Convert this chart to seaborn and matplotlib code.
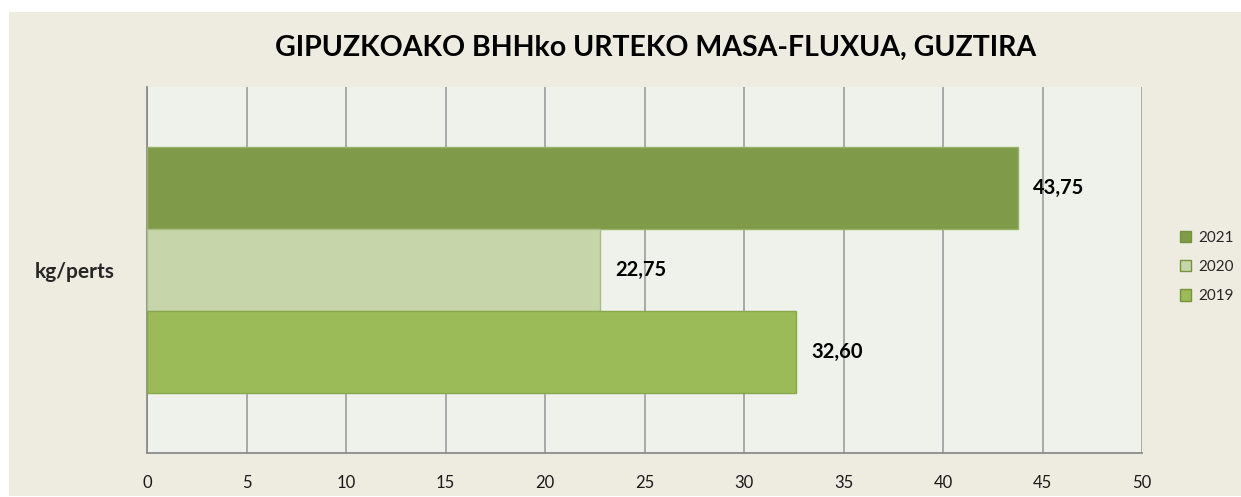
import pandas as pd
import matplotlib.pyplot as plt
import seaborn as sns
from matplotlib.patches import Rectangle

# chart values
years = ['2021', '2020', '2019']
values = [43.75, 22.75, 32.60]
category = 'kg/perts'
x_ticks = [0, 5, 10, 15, 20, 25, 30, 35, 40, 45, 50]
colors = ['#7f9a48', '#c6d6aa', '#9bbb59']

data = pd.DataFrame({'cat': [category] * len(years), 'year': years, 'value': values})

sns.set_style('white')
plt.rcParams['font.family'] = ['Lato', 'DejaVu Sans']

fig = plt.figure(figsize=(12.41, 4.97), dpi=100)
fig.patch.set_facecolor('white')
# beige chart background with small white margin top/left
fig.patches.append(Rectangle((9 / 1241, 1 / 497), 1 - 9 / 1241, (496 - 12) / 497,
                             transform=fig.transFigure, facecolor='#eeece1',
                             edgecolor='none', zorder=-1))

ax = fig.add_axes([147 / 1241, 1 - 453 / 497, (1142 - 147) / 1241, (453 - 87) / 497])
ax.set_facecolor('#eff2ea')

sns.barplot(data=data, x='value', y='cat', hue='year', hue_order=years,
            palette=colors, saturation=1, orient='h', width=0.672, ax=ax, zorder=3)

edge_cols = ['#98b266', '#a9bd85', '#86a84a']
for cont, ec, v in zip(ax.containers, edge_cols, values):
    for bar in cont:
        bar.set_edgecolor(ec)
        bar.set_linewidth(1)
    ax.bar_label(cont, labels=[f'{v:.2f}'.replace('.', ',')], padding=11,
                 fontsize=14.5, fontweight='bold', color='black')

ax.set_xlim(0, 50)
ax.set_xticks(x_ticks)
ax.set_xticklabels([str(t) for t in x_ticks], fontsize=12, color='#1a1a1a')
ax.tick_params(axis='x', length=5, color='#8c8c8c', width=1, pad=11, direction='out')
ax.tick_params(axis='y', length=0, pad=23)
ax.set_yticklabels([category], fontsize=15, fontweight='bold')
ax.grid(axis='x', color='#a3a3a3', linewidth=1.3, zorder=0)
ax.set_axisbelow(True)
ax.set_xlabel('')
ax.set_ylabel('')
for side in ['top', 'right']:
    ax.spines[side].set_visible(False)
for side in ['left', 'bottom']:
    ax.spines[side].set_color('#8c8c8c')
    ax.spines[side].set_linewidth(1.3)

leg = ax.legend(loc='center left', bbox_to_anchor=(1166 / 1241, 1 - 267 / 497),
                bbox_transform=fig.transFigure, frameon=False, fontsize=11,
                handlelength=0.75, handleheight=0.75, handletextpad=0.45,
                labelspacing=1.0)
for h in leg.legend_handles:
    h.set_edgecolor('#76923c')

fig.text(656 / 1241, 1 - 48 / 497, 'GIPUZKOAKO BHHko URTEKO MASA-FLUXUA, GUZTIRA',
         ha='center', va='center', fontsize=20.5, fontweight='bold', color='black')

fig.savefig('out.png', dpi=100)
